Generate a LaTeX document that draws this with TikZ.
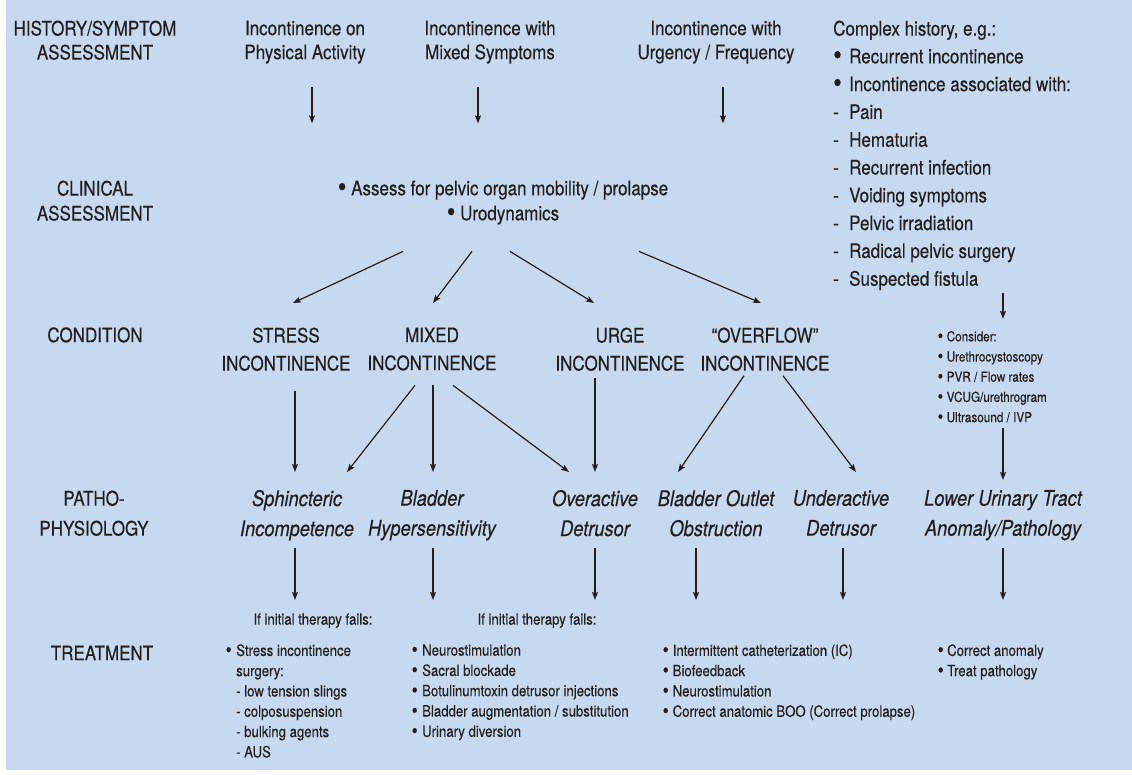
\documentclass[tikz,border=0pt]{standalone}
\usepackage{fontspec}
\setmainfont{TeX Gyre Heros}[FakeStretch=0.85,FakeBold=0.3]
\usetikzlibrary{arrows.meta}
\definecolor{bgblue}{RGB}{198,217,238}
\definecolor{ink}{RGB}{35,31,32}
\newcommand\bigdot{\raisebox{-0.07em}{\scalebox{1.45}{•}}}
\newcommand\smalldot{\hspace*{-1.5pt}\raisebox{-0.05em}{\scalebox{1.3}{•}}}
\newcommand\mybul[1]{\makebox[#1][l]{\bigdot}}
\newcommand\sbul[1]{\makebox[#1][l]{\smalldot}}
\newcommand\mydash{\makebox[16pt][l]{-}}
\tikzset{
  every node/.style={inner sep=0pt, text=ink},
  lab/.style={font=\fontsize{20}{24}\selectfont, align=center},
  cond/.style={font=\fontsize{20}{28}\selectfont, align=center, anchor=north},
  patho/.style={font=\fontsize{21.5}{30}\selectfont\itshape, align=center, anchor=north},
  small/.style={font=\fontsize{15.5}{20.3}\selectfont, align=left},
  tiny/.style={font=\fontsize{13.8}{20.2}\selectfont, align=left},
  arr/.style={draw=ink, line width=1.2pt, -{Stealth[length=8pt,width=6pt,inset=1.5pt]}}
}
\begin{document}
\begin{tikzpicture}[x=1pt,y=-1pt]
\useasboundingbox (0,0) rectangle (1132,775);
\fill[white] (0,0) rectangle (1132,775);
\fill[bgblue] (6,0) rectangle (1132,770);

% row labels
\node[lab, anchor=north] (lhist) at (95,20.4) {HISTORY/SYMPTOM\\ASSESSMENT};
\node[lab, anchor=north, font=\fontsize{20}{25}\selectfont] (lclin) at (95,180.4) {CLINICAL\\ASSESSMENT};
\node[lab, anchor=base] (lcond) at (95,342.2) {CONDITION};
\node[lab, anchor=north, font=\fontsize{20}{30}\selectfont] (lpath) at (94,490.4) {PATHO-\\PHYSIOLOGY};
\node[lab, anchor=base] (ltreat) at (102,660.2) {TREATMENT};

% history
\node[lab, anchor=north] (h1) at (305,20.4) {Incontinence on\\Physical Activity};
\node[lab, anchor=north] (h2) at (490,20.4) {Incontinence with\\Mixed Symptoms};
\node[lab, anchor=north] (h3) at (716,20.4) {Incontinence with\\Urgency / Frequency};
\node[anchor=north west, align=left, font=\fontsize{20}{27.8}\selectfont] (cx) at (833,20.4)
  {Complex history, e.g.:\\\mybul{16pt}Recurrent incontinence\\\mybul{16pt}Incontinence associated with:\\
   \mydash Pain\\\mydash Hematuria\\\mydash Recurrent infection\\\mydash Voiding symptoms\\
   \mydash Pelvic irradiation\\\mydash Radical pelvic surgery\\\mydash Suspected fistula};

% clinical
\node[lab, anchor=north, font=\fontsize{20}{25}\selectfont] (cl) at (503,180.4)
  {\bigdot\ Assess for pelvic organ mobility / prolapse\\\bigdot\ Urodynamics};

% conditions
\node[cond] (c1) at (286,327.4) {STRESS\\INCONTINENCE};
\node[cond] (c2) at (432,327.4) {MIXED\\INCONTINENCE};
\node[cond] (c3) at (620,327.4) {URGE\\INCONTINENCE};
\node[cond] (c4) at (765,327.4) {“OVERFLOW”\\INCONTINENCE};

% consider
\node[tiny, anchor=north west] (cons) at (939,330.8)
  {\sbul{7.5pt}Consider:\\\sbul{7.5pt}Urethrocystoscopy\\\sbul{7.5pt}PVR / Flow rates\\\sbul{7.5pt}VCUG/urethrogram\\\sbul{7.5pt}Ultrasound / IVP};

% pathophysiology
\node[patho] (p1) at (297,489.8) {Sphincteric\\Incompetence};
\node[patho] (p2) at (432,489.8) {Bladder\\Hypersensitivity};
\node[patho] (p3) at (595,489.8) {Overactive\\Detrusor};
\node[patho] (p4) at (716,489.8) {Bladder Outlet\\Obstruction};
\node[patho] (p5) at (841,489.8) {Underactive\\Detrusor};
\node[patho] (p6) at (1003,489.8) {Lower Urinary Tract\\Anomaly/Pathology};

% treatment
\node[small, anchor=base] (if1) at (313,624.6) {If initial therapy fails:};
\node[small, anchor=base] (if2) at (537,624.6) {If initial therapy fails:};
\node[small, anchor=north west] (t1) at (227,644.1)
  {\sbul{9pt}Stress incontinence\\\hspace*{9pt}surgery:\\\hspace*{9pt}- low tension slings\\
   \hspace*{9pt}- colposuspension\\\hspace*{9pt}- bulking agents\\\hspace*{9pt}- AUS};
\node[small, anchor=north west] (t2) at (413,644.1)
  {\sbul{9pt}Neurostimulation\\\sbul{9pt}Sacral blockade\\\sbul{9pt}Botulinumtoxin detrusor injections\\
   \sbul{9pt}Bladder augmentation / substitution\\\sbul{9pt}Urinary diversion};
\node[small, anchor=north west] (t3) at (664,644.1)
  {\sbul{8.5pt}Intermittent catheterization (IC)\\\sbul{8.5pt}Biofeedback\\\sbul{8.5pt}Neurostimulation\\
   \sbul{8.5pt}Correct anatomic BOO (Correct prolapse)};
\node[small, anchor=north west] (t4) at (939,644.1)
  {\sbul{8pt}Correct anomaly\\\sbul{8pt}Treat pathology};

% arrows: history
\draw[arr] ([shift={(7,23.6)}]h1.south) -- ++(0,36);
\draw[arr] ([shift={(-12,23.6)}]h2.south) -- ++(0,36);
\draw[arr] ([shift={(7,23.6)}]h3.south) -- ++(0,36);

% arrows: clinical -> conditions
\draw[arr] ([shift={(-100,26.6)}]cl.south) -- ([shift={(7,-24.4)}]c1.north);
\draw[arr] ([shift={(-31,26.6)}]cl.south) -- ([shift={(1,-24.4)}]c2.north);
\draw[arr] ([shift={(7,26.6)}]cl.south) -- ([shift={(-26,-24.4)}]c3.north);
\draw[arr] ([shift={(136,26.6)}]cl.south) -- ([shift={(-4,-24.4)}]c4.north);

% arrows: conditions -> pathophysiology
\draw[arr] ([shift={(9,19.6)}]c1.south) -- ([shift={(-2,-17.8)}]p1.north);
\draw[arr] ([shift={(-17,14.6)}]c2.south) -- ([shift={(50,-17.8)}]p1.north);
\draw[arr] ([shift={(1,14.6)}]c2.south) -- ([shift={(1,-17.8)}]p2.north);
\draw[arr] ([shift={(21,14.6)}]c2.south) -- ([shift={(-26,-17.8)}]p3.north);
\draw[arr] ([shift={(-25,6.6)}]c3.south) -- ([shift={(0,-17.8)}]p3.north);
\draw[arr] ([shift={(-21,4.6)}]c4.south) -- ([shift={(-38,-17.8)}]p4.north);
\draw[arr] ([shift={(18,4.6)}]c4.south) -- ([shift={(15,-17.8)}]p5.north);

% complex history -> consider -> anomaly
\draw[arr] ([shift={(170,2.6)}]cx.south west) -- ++(0,26);
\draw[arr] ([shift={(64,5.5)}]cons.south west) -- ([shift={(0,-9.8)}]p6.north);

% arrows: pathophysiology -> treatment
\draw[arr] ([shift={(-2,58.2)}]p1.north) -- ++(0,52);
\draw[arr] ([shift={(1,58.2)}]p2.north) -- ++(0,52);
\draw[arr] ([shift={(0,58.2)}]p3.north) -- ++(0,52);
\draw[arr] ([shift={(-20,58.2)}]p4.north) -- ++(0,52);
\draw[arr] ([shift={(2,58.2)}]p5.north) -- ++(0,52);
\draw[arr] ([shift={(0,58.2)}]p6.north) -- ++(0,52);
\end{tikzpicture}
\end{document}
